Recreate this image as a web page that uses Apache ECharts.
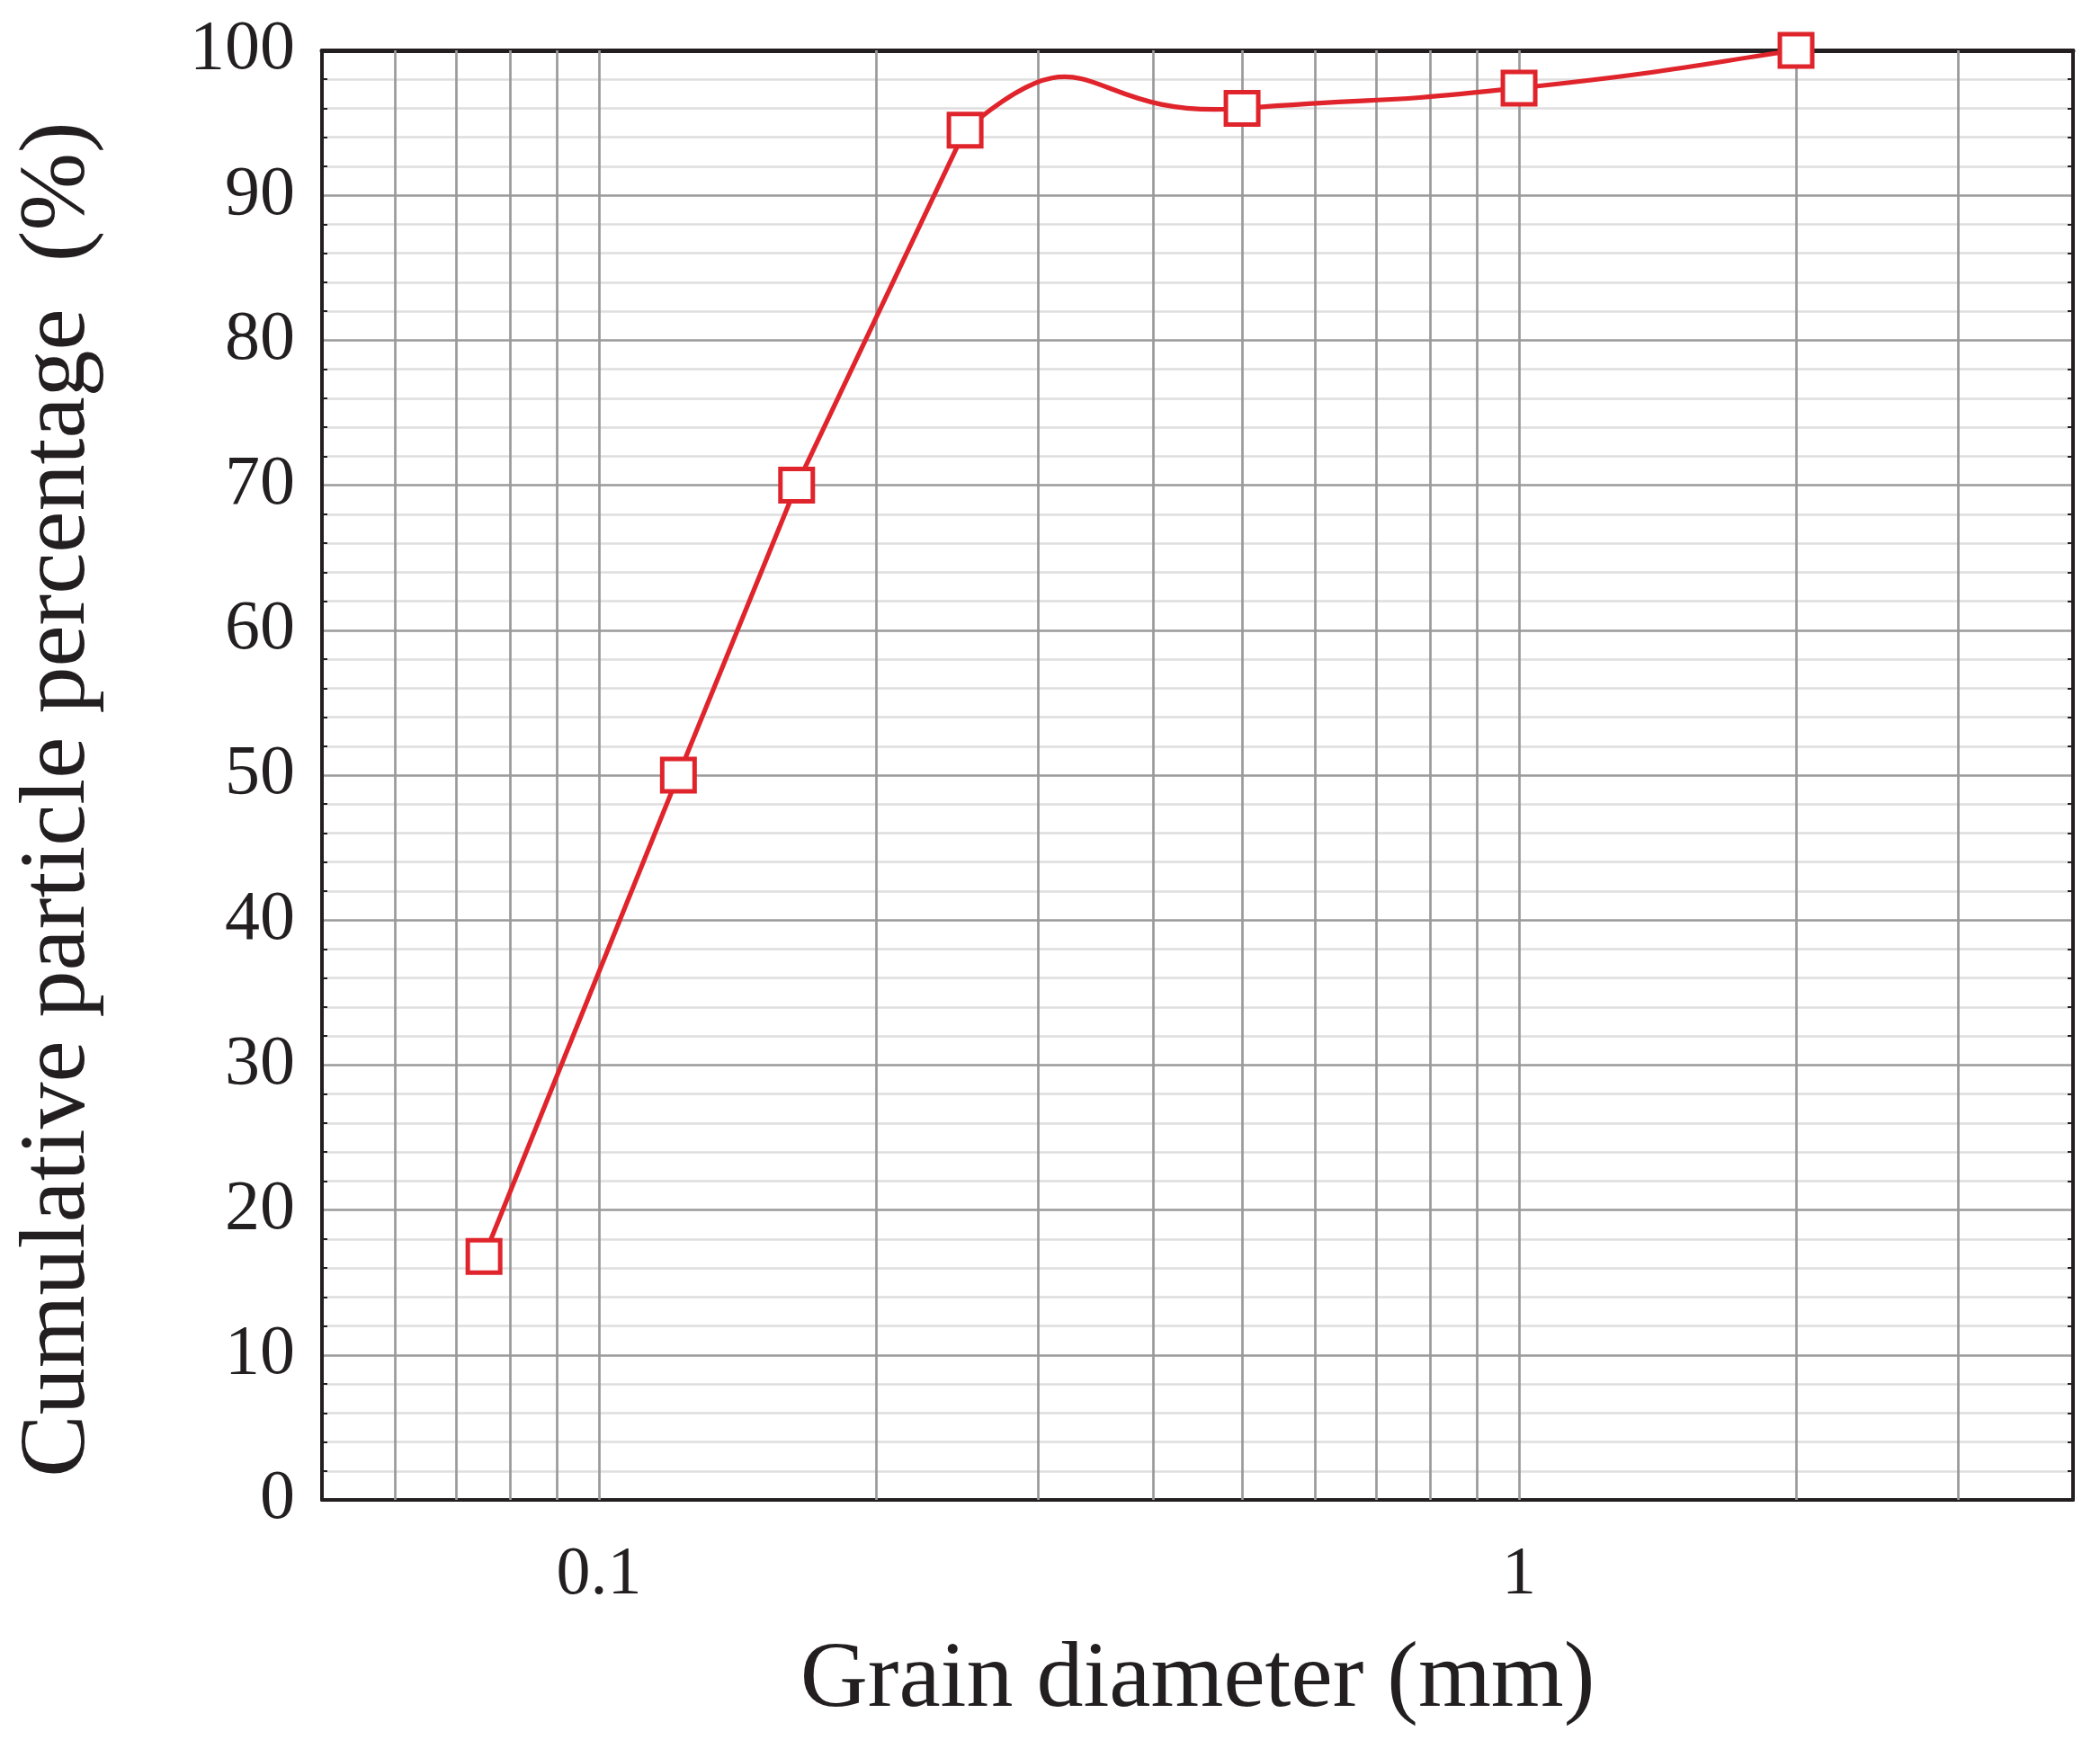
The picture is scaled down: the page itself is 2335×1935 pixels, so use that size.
<!DOCTYPE html>
<html>
<head>
<meta charset="utf-8">
<script src="https://cdn.jsdelivr.net/npm/echarts@6/dist/echarts.min.js"></script>
<style>
html,body{margin:0;padding:0;background:#fff;}
#chart{width:2335px;height:1935px;}
</style>
</head>
<body>
<div id="chart"></div>
<script>
// ---- data ----
var grainDiameter = [0.075, 0.122, 0.164, 0.25, 0.5, 1, 2];        // mm
var cumulativePercent = [16.8, 50, 70, 94.5, 96, 97.4, 100];       // %
var xTickLabels = [0.1, 1];
var xGridValues = [0.06, 0.07, 0.08, 0.09, 0.1, 0.2, 0.3, 0.4, 0.5, 0.6, 0.7, 0.8, 0.9, 1, 2, 3];
var xRange = [0.05, 4];
var yRange = [0, 100];
var xTitle = 'Grain diameter (mm)';
var yTitle = 'Cumulative particle percentage  (%)';

var FONT = "'Liberation Serif', 'Times New Roman', serif";
var INK = '#231f20';
var RED = '#e0242c';
var SMOOTH_K = 0.3;     // cardinal-spline tangent factor for the curved upper part
var SMOOTH_FROM = 3;    // the curve is straight up to this point index, smoothed afterwards

var chart = echarts.init(document.getElementById('chart'), null, {renderer: 'canvas'});

var pts = grainDiameter.map(function (d, i) { return [d, cumulativePercent[i]]; });

function frameY(pos) {
  return {
    type: 'value', position: pos, min: yRange[0], max: yRange[1], interval: 10, z: 3,
    axisLine: {show: true, lineStyle: {color: INK, width: 4}},
    axisTick: {show: false, inside: true},
    minorTick: {show: true, splitNumber: 5, length: 6, lineStyle: {color: INK, width: 2}},
    axisLabel: {show: false}, splitLine: {show: false}, minorSplitLine: {show: false}
  };
}

function lineStyle() { return {stroke: RED, lineWidth: 5.2, fill: null, lineJoin: 'round'}; }

function renderCurve(params, api) {
  if (params.dataIndex !== 0) return null;
  var P = grainDiameter.map(function (d, i) { return api.coord([d, cumulativePercent[i]]); });
  var children = [{type: 'polyline', shape: {points: P.slice(0, SMOOTH_FROM + 1)}, style: lineStyle()}];
  for (var i = SMOOTH_FROM; i < P.length - 1; i++) {
    var a = P[i], b = P[i + 1], prev = P[i - 1];
    var t0 = [(b[0] - prev[0]) * SMOOTH_K, (b[1] - prev[1]) * SMOOTH_K];
    var t1;
    if (i + 2 < P.length) {
      var n2 = P[i + 2];
      t1 = [(n2[0] - a[0]) * SMOOTH_K, (n2[1] - a[1]) * SMOOTH_K];
    } else {
      t1 = [(b[0] - a[0]) * SMOOTH_K, (b[1] - a[1]) * SMOOTH_K];
    }
    children.push({
      type: 'bezierCurve',
      shape: {x1: a[0], y1: a[1], x2: b[0], y2: b[1],
              cpx1: a[0] + t0[0], cpy1: a[1] + t0[1], cpx2: b[0] - t1[0], cpy2: b[1] - t1[1]},
      style: lineStyle()
    });
  }
  return {type: 'group', children: children};
}

var option = {
  animation: false,
  backgroundColor: '#fff',
  grid: {left: 358, right: 30, top: 56, bottom: 267, containLabel: false},
  xAxis: [{
    type: 'log', logBase: 10, min: xRange[0], max: xRange[1], position: 'bottom', z: 3,
    name: xTitle, nameLocation: 'middle', nameGap: 150,
    nameTextStyle: {fontFamily: FONT, fontSize: 104, color: INK},
    axisLine: {show: true, onZero: false, lineStyle: {color: INK, width: 4}},
    axisTick: {show: false},
    splitLine: {show: false},
    axisLabel: {
      fontFamily: FONT, fontSize: 76, color: INK, margin: 46,
      showMinLabel: false, showMaxLabel: false,
      formatter: function (v) {
        for (var i = 0; i < xTickLabels.length; i++) {
          if (Math.abs(Math.log10(v) - Math.log10(xTickLabels[i])) < 1e-6) return String(xTickLabels[i]);
        }
        return '';
      }
    }
  }, {
    type: 'log', logBase: 10, min: xRange[0], max: xRange[1], position: 'top', z: 3,
    axisLine: {show: true, onZero: false, lineStyle: {color: INK, width: 5}},
    axisTick: {show: false}, axisLabel: {show: false}, splitLine: {show: false}
  }],
  yAxis: [{
    type: 'value', position: 'left', min: yRange[0], max: yRange[1], interval: 10, z: 0,
    axisLine: {show: false}, axisTick: {show: false},
    axisLabel: {fontFamily: FONT, fontSize: 78, color: INK, margin: 30},
    splitLine: {show: true, lineStyle: {color: '#9a9a9a', width: 2.5}},
    minorTick: {show: false, splitNumber: 5},
    minorSplitLine: {show: true, lineStyle: {color: '#dedede', width: 2.5}}
  }, frameY('left'), frameY('right')],
  graphic: [{
    type: 'text', x: 66, y: 889, rotation: Math.PI / 2,
    style: {text: yTitle, fontFamily: FONT, fontSize: 104, fill: INK, textAlign: 'center', textVerticalAlign: 'middle'},
    silent: true
  }],
  series: [{
    type: 'line', name: 'grid', xAxisIndex: 0, yAxisIndex: 0, z: 1,
    data: [], silent: true,
    markLine: {
      silent: true, symbol: 'none', animation: false,
      label: {show: false},
      lineStyle: {color: '#9a9a9a', width: 2.7, type: 'solid'},
      data: xGridValues.map(function (v) { return {xAxis: v}; })
    }
  }, {
    type: 'custom', name: 'curve', xAxisIndex: 0, yAxisIndex: 0, z: 5,
    data: pts, renderItem: renderCurve, silent: true, clip: false
  }, {
    type: 'scatter', name: 'Cumulative', xAxisIndex: 0, yAxisIndex: 0, z: 10,
    data: pts, symbol: 'rect', symbolSize: 36,
    itemStyle: {color: '#ffffff', borderColor: RED, borderWidth: 5, opacity: 1}
  }]
};
chart.setOption(option);
</script>
</body>
</html>
